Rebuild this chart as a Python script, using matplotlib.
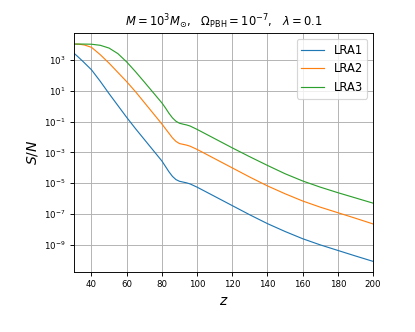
import numpy as np
import matplotlib
matplotlib.use('Agg')
import matplotlib.pyplot as plt

# redshift grid and log10(S/N)
z_lra1 = [30, 32, 35, 40, 45, 50, 55, 60, 65, 70, 75, 80, 82, 84, 86, 88, 90, 92,
          94, 96, 100, 110, 120, 130, 140, 150, 160, 170, 180, 190, 200]
logsn_lra1 = [3.45, 3.25, 2.93, 2.37, 1.62, 0.82, 0.05, -0.72, -1.45, -2.15, -2.85,
              -3.55, -3.9, -4.25, -4.55, -4.76, -4.87, -4.92, -4.97, -5.04, -5.25,
              -5.85, -6.45, -7.05, -7.62, -8.13, -8.6, -9.0, -9.36, -9.72, -10.07]

z_lra2 = [30, 33, 36, 40, 45, 50, 55, 60, 65, 70, 75, 80, 82, 84, 86, 88, 90, 92,
          94, 96, 100, 110, 120, 130, 140, 150, 160, 170, 180, 190, 200]
logsn_lra2 = [4.04, 4.03, 3.98, 3.83, 3.35, 2.8, 2.2, 1.6, 0.95, 0.25, -0.45, -1.15,
              -1.45, -1.75, -2.05, -2.28, -2.42, -2.47, -2.52, -2.59, -2.8, -3.4,
              -4.0, -4.6, -5.17, -5.68, -6.15, -6.55, -6.91, -7.27, -7.64]

z_lra3 = [30, 35, 40, 45, 50, 55, 60, 65, 70, 75, 80, 82, 84, 86, 88, 90, 92,
          94, 96, 100, 110, 120, 130, 140, 150, 160, 170, 180, 190, 200]
logsn_lra3 = [4.04, 4.04, 4.03, 3.96, 3.78, 3.42, 2.88, 2.25, 1.58, 0.9, 0.22, -0.1,
              -0.45, -0.75, -0.97, -1.1, -1.16, -1.21, -1.28, -1.5, -2.1, -2.7,
              -3.28, -3.84, -4.38, -4.85, -5.25, -5.61, -5.95, -6.29]

fig, ax = plt.subplots(figsize=(5, 4), dpi=83)
fig.subplots_adjust(left=0.178, right=0.899, bottom=0.18, top=0.9)

ax.plot(z_lra1, 10**np.array(logsn_lra1), lw=1.0, label='LRA1')
ax.plot(z_lra2, 10**np.array(logsn_lra2), lw=1.0, label='LRA2')
ax.plot(z_lra3, 10**np.array(logsn_lra3), lw=1.0, label='LRA3')

ax.set_yscale('log')
ax.set_xlim(30, 200)
ax.grid(True)
ax.tick_params(labelsize=7.5)
ax.set_xlabel('$z$', fontsize=12)
ax.set_ylabel('$S/N$', fontsize=12)
ax.set_title(r'$M=10^3M_{\odot}$,   $\Omega_{\rm PBH}=10^{-7}$,   $\lambda=0.1$',
             fontsize=10)
ax.legend(loc='upper right', fontsize=10)

plt.savefig('out.png')
